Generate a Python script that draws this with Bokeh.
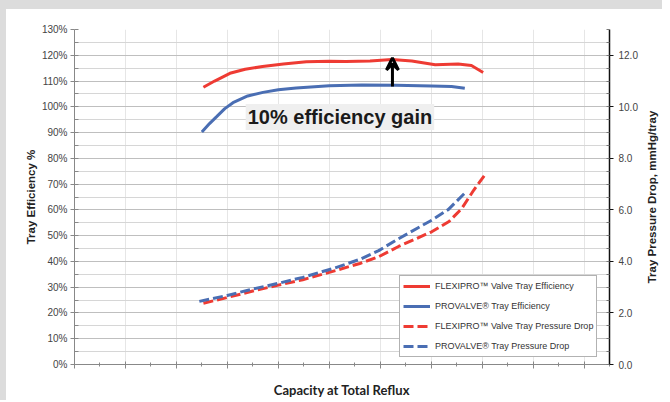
from bokeh.plotting import figure
from bokeh.layouts import row, column
from bokeh.models import (Range1d, LinearAxis, Legend, LegendItem, Label, Arrow,
                          VeeHead, SingleIntervalTicker, NumeralTickFormatter,
                          CustomJSTickFormatter, Spacer)
from bokeh.embed import file_html
from bokeh.resources import INLINE
from math import pi

# ---- data ----
flexi_eff_x = [2.53, 2.75, 3.05, 3.35, 3.69, 4.1, 4.55, 5.0, 5.33, 5.8, 6.23, 6.62, 7.08, 7.53, 7.79, 8.02]
flexi_eff_y = [107.6, 110.0, 113.0, 114.6, 115.6, 116.6, 117.5, 117.7, 117.6, 117.8, 118.4, 117.8, 116.3, 116.6, 116.0, 113.3]

pro_eff_x = [2.50, 2.65, 2.79, 2.95, 3.11, 3.40, 3.70, 4.00, 4.35, 5.00, 5.64, 6.30, 7.01, 7.40, 7.66]
pro_eff_y = [90.2, 93.5, 96.2, 99.3, 101.6, 104.2, 105.6, 106.6, 107.3, 108.2, 108.5, 108.4, 108.1, 107.9, 107.2]

flexi_dp_x = [2.53, 3.0, 3.5, 4.0, 4.48, 5.13, 5.60, 5.97, 6.36, 7.01, 7.35, 7.60, 7.83, 8.07]
flexi_dp_y = [2.38, 2.60, 2.85, 3.08, 3.29, 3.65, 3.92, 4.18, 4.58, 5.15, 5.55, 6.05, 6.75, 7.40]

pro_dp_x = [2.45, 3.0, 3.5, 4.0, 4.48, 5.13, 5.60, 5.97, 6.36, 7.01, 7.34, 7.66]
pro_dp_y = [2.45, 2.68, 2.93, 3.15, 3.38, 3.76, 4.08, 4.42, 4.88, 5.60, 6.02, 6.65]

arrow_x = 6.24
arrow_y = [107.9, 119.0]
gain_text = "10% efficiency gain"
gain_pos = (5.21, 96.0)

labels = ["FLEXIPRO\u2122 Valve Tray Efficiency",
          "PROVALVE\u00ae Tray Efficiency",
          "FLEXIPRO\u2122 Valve Tray Pressure Drop",
          "PROVALVE\u00ae Tray Pressure Drop"]
right_title = "Tray Pressure Drop, mmHg/tray"

RED = "#ee3b33"
BLUE = "#4a6eb3"
FONT = "Liberation Sans"
BAND = "#dcdcdc"

p = figure(width=634, height=391, output_backend="svg", toolbar_location=None,
           x_range=Range1d(0, 10.5), y_range=Range1d(0, 130),
           min_border_left=68, min_border_right=28, min_border_top=20, min_border_bottom=35,
           background_fill_color="white", border_fill_color="white")
p.outline_line_color = None
p.extra_y_ranges = {"pd": Range1d(0, 13)}

# x axis
xa = p.xaxis[0]
xa.ticker = SingleIntervalTicker(interval=1, num_minor_ticks=2)
xa.formatter = CustomJSTickFormatter(code="return '';")
xa.major_label_text_font_size = "1px"
xa.major_label_standoff = 0
xa.axis_label = "Capacity at Total Reflux"
xa.axis_label_text_font = "Lato"
xa.axis_label_text_font_style = "bold"
xa.axis_label_text_font_size = "13px"
xa.axis_label_text_color = "#222222"
xa.axis_label_standoff = 13
xa.axis_line_color = "#888888"
xa.major_tick_line_color = "#888888"
xa.minor_tick_line_color = "#888888"
xa.major_tick_in = 3
xa.major_tick_out = 4
xa.minor_tick_in = 2
xa.minor_tick_out = 2

# left y axis
ya = p.yaxis[0]
ya.ticker = SingleIntervalTicker(interval=10, num_minor_ticks=2)
ya.formatter = CustomJSTickFormatter(code="return tick.toFixed(0) + '%';")
ya.major_label_text_font = FONT
ya.major_label_text_font_size = "10px"
ya.major_label_text_color = "#444444"
ya.major_label_standoff = 3
ya.axis_label = "Tray Efficiency %"
ya.axis_label_text_font = FONT
ya.axis_label_text_font_style = "bold"
ya.axis_label_text_font_size = "11.5px"
ya.axis_label_text_color = "#222222"
ya.axis_label_standoff = 2
ya.axis_line_color = "#888888"
ya.major_tick_line_color = "#888888"
ya.minor_tick_line_color = "#888888"
ya.major_tick_in = 0
ya.major_tick_out = 4
ya.minor_tick_in = 4
ya.minor_tick_out = 0

# right y axis
ra = LinearAxis(y_range_name="pd")
ra.ticker = SingleIntervalTicker(interval=2, num_minor_ticks=4)
ra.formatter = NumeralTickFormatter(format="0.0")
ra.major_label_text_font = FONT
ra.major_label_text_font_size = "10px"
ra.major_label_text_color = "#444444"
ra.major_label_standoff = 5
ra.axis_line_color = "#111111"
ra.axis_line_width = 1.5
ra.major_tick_line_color = "#111111"
ra.minor_tick_line_color = "#777777"
ra.major_tick_in = 0
ra.major_tick_out = 4
ra.minor_tick_in = 3
ra.minor_tick_out = 0
p.add_layout(ra, "right")

# grids
p.xgrid.grid_line_color = "#e6e6e6"
p.xgrid.grid_line_width = 1
p.ygrid.grid_line_color = "#a8a8a8"
p.ygrid.grid_line_dash = "1 1"
p.ygrid.minor_grid_line_color = "#d6d6d6"

# series
r1 = p.line(flexi_eff_x, flexi_eff_y, line_color=RED, line_width=3)
r2 = p.line(pro_eff_x, pro_eff_y, line_color=BLUE, line_width=3)
r3 = p.line(flexi_dp_x, flexi_dp_y, y_range_name="pd", line_color=RED, line_width=3, line_dash="10 4")
r4 = p.line(pro_dp_x, pro_dp_y, y_range_name="pd", line_color=BLUE, line_width=3, line_dash="10 4")

# arrow and gain label
p.add_layout(Arrow(x_start=arrow_x, y_start=arrow_y[0], x_end=arrow_x, y_end=arrow_y[1],
                   line_width=3, line_color="black",
                   end=VeeHead(size=12, line_width=3, line_color="black", fill_color=None)))
p.add_layout(Label(x=gain_pos[0], y=gain_pos[1], text=gain_text, text_font=FONT,
                   text_font_style="bold", text_font_size="20px", text_color="#1a1a1a",
                   text_align="center", text_baseline="middle",
                   background_fill_color="#efefef", padding=2))

legend = Legend(items=[LegendItem(label=labels[0], renderers=[r1]),
                       LegendItem(label=labels[1], renderers=[r2]),
                       LegendItem(label=labels[2], renderers=[r3]),
                       LegendItem(label=labels[3], renderers=[r4])],
                location=(325, 7), orientation="vertical",
                label_text_font=FONT, label_text_font_size="9px", label_text_color="#333333",
                glyph_width=27, glyph_height=14, label_height=14, spacing=6, padding=3,
                margin=0, label_standoff=5,
                border_line_color="#666666", border_line_width=1,
                background_fill_color="white", background_fill_alpha=1)
p.add_layout(legend, "center")

# narrow side panel holding the right axis title (reads bottom-to-top)
p2 = figure(width=22, height=391, output_backend="svg", toolbar_location=None,
            x_range=Range1d(0, 1), y_range=Range1d(0, 13),
            x_axis_location=None, y_axis_location=None,
            min_border_left=0, min_border_right=0, min_border_top=20, min_border_bottom=35,
            background_fill_color="white", border_fill_color="white")
p2.outline_line_color = None
p2.grid.visible = False
p2.add_layout(Label(x=0.5, y=6.5, angle=pi / 2, text=right_title, text_font=FONT,
                    text_font_style="bold", text_font_size="11.5px", text_color="#222222",
                    text_align="center", text_baseline="middle"))

# light grey frame strips seen along the top and left of the reference
top_band = Spacer(width=662, height=9, styles={"background-color": BAND})
left_band = Spacer(width=6, height=391, styles={"background-color": BAND})

layout = column(top_band, row(left_band, p, p2, spacing=0), spacing=0)

open("out.html", "w").write(file_html(layout, INLINE))
